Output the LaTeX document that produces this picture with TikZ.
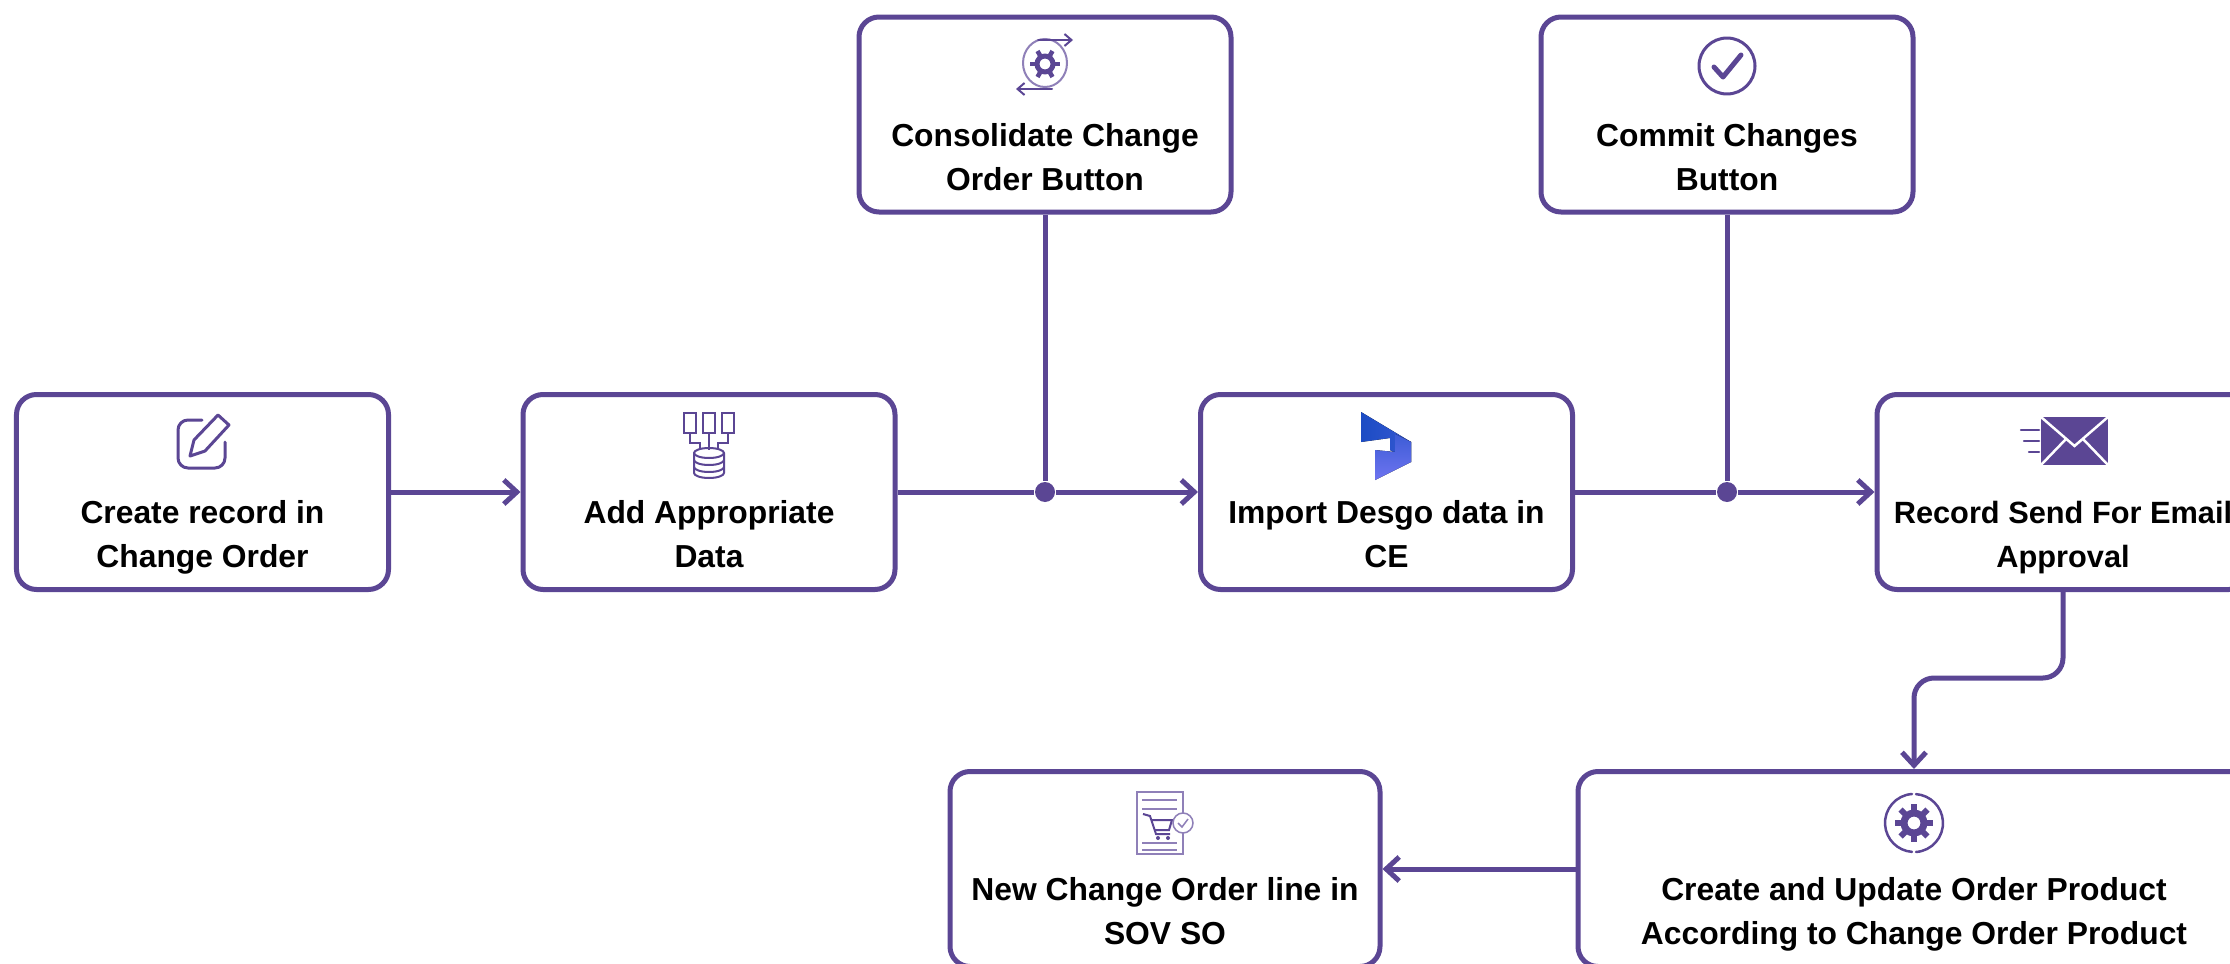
\documentclass[tikz,border=0pt]{standalone}
\usepackage{fontspec}
\setmainfont{Liberation Sans}
\usepackage{xcolor}
\usetikzlibrary{arrows.meta}
\definecolor{FlowPurple}{HTML}{5B4694}
\definecolor{IconLight}{HTML}{8F80B8}
\definecolor{LogoDark}{HTML}{1C4CC4}
\definecolor{LogoLight}{HTML}{6E74F0}

\begin{document}
\begin{tikzpicture}[
stepbox/.style={rectangle, rounded corners=.2cm, draw=FlowPurple, line width=.05cm, fill=white,
minimum width=3.72cm, minimum height=1.95cm, align=center, inner sep=0pt,
font=\fontsize{9.05}{12.5}\selectfont\bfseries},
%
junction/.style={circle, fill=FlowPurple, minimum size=.2cm, inner sep=0pt},
%
flow/.style={draw=FlowPurple, line width=.05cm},
%
flowarrow/.style={flow, -{Straight Barb[length=.13cm,width=.24cm]}},
%
icon/.style={draw=FlowPurple, line width=.03cm, line join=round, line cap=round},
%
thinicon/.style={draw=IconLight, line width=.015cm}]

\useasboundingbox (0,0) rectangle (22.30,-9.64);

%%%%%%%%%%%%%%%%%%%%%%%%%%%%%%
\node [stepbox] (createBox) at (2.025,-4.92) {\strut\\[.46cm]Create record in\\Change Order\strut};
\node [stepbox] (addBox) at (7.09,-4.92) {\strut\\[.46cm]Add Appropriate\\Data\strut};
\node [stepbox] (importBox) at (13.865,-4.92) {\strut\\[.46cm]Import Desgo data in\\CE\strut};
\node [stepbox, font=\fontsize{8.75}{12.5}\selectfont\bfseries] (recordBox) at (20.63,-4.92) {\strut\\[.46cm]Record Send For Email\\Approval\strut};
%%%%%%%%%%%%%%%%%%%%%%%%%%%%%%
\node [stepbox] (consolidateBox) at (10.45,-1.145) {\strut\\[.46cm]Consolidate Change\\Order Button\strut};
\node [stepbox] (commitBox) at (17.27,-1.145) {\strut\\[.46cm]Commit Changes\\Button\strut};
%%%%%%%%%%%%%%%%%%%%%%%%%%%%%%
\node [stepbox, minimum width=6.72cm] (updateBox) at (19.14,-8.69) {\strut\\[.46cm]Create and Update Order Product\\According to Change Order Product\strut};
\node [stepbox, minimum width=4.30cm] (newBox) at (11.65,-8.69) {\strut\\[.46cm]New Change Order line in\\SOV SO\strut};

%%%%%%%%%%%%%%%%%%%%%%%%%%%%%%
\node [junction] (junctionA) at (consolidateBox.south |- addBox.east) {};
\node [junction] (junctionB) at (commitBox.south |- importBox.east) {};

\draw [flowarrow] (createBox) -- (addBox);
\draw [flow] (addBox) -- (junctionA);
\draw [flow] (consolidateBox) -- (junctionA);
\draw [flowarrow] (junctionA) -- (importBox);
\draw [flow] (importBox) -- (junctionB);
\draw [flow] (commitBox) -- (junctionB);
\draw [flowarrow] (junctionB) -- (recordBox);
\draw [flowarrow, rounded corners=.2cm] (recordBox.south) -- ++(0,-.86) -| (updateBox.north);
\draw [flowarrow] (updateBox) -- (newBox);

%%%%%%%%%%%%%%%%%%%%%%%%%%%%%%
% pencil
\draw [icon] (2.02,-4.20) -- (1.88,-4.20) arc (90:180:.1) -- (1.78,-4.58) arc (180:270:.1) -- (2.15,-4.68) arc (270:360:.1) -- (2.25,-4.42);
\draw [icon] (1.90,-4.56) -- (1.94,-4.40) -- (2.18,-4.15) -- (2.29,-4.25) -- (2.05,-4.51) -- cycle;
% documents and database
\foreach \x in {6.90,7.09,7.28}
  \draw [thinicon, draw=FlowPurple, fill=white] (\x-.06,-4.13) rectangle (\x+.06,-4.33);
\draw [thinicon, draw=FlowPurple] (6.90,-4.33) |- (7.00,-4.43) -- (7.00,-4.50);
\draw [thinicon, draw=FlowPurple] (7.09,-4.33) -- (7.09,-4.50);
\draw [thinicon, draw=FlowPurple] (7.28,-4.33) |- (7.18,-4.43) -- (7.18,-4.50);
\draw [icon, line width=.02cm] (7.09,-4.53) ellipse (.15 and .05);
\draw [icon, line width=.02cm] (6.94,-4.53) -- (6.94,-4.73) arc (180:360:.15 and .05) -- (7.24,-4.53);
\draw [icon, line width=.02cm] (6.94,-4.60) arc (180:360:.15 and .05);
\draw [icon, line width=.02cm] (6.94,-4.67) arc (180:360:.15 and .05);
% gear between two arrows
\draw [thinicon, line width=.02cm] (10.45,-.63) ellipse (.22 and .24);
\draw [icon, line width=.02cm, -{Straight Barb[length=.07cm,width=.12cm]}] (10.38,-.40) -- (10.73,-.40);
\draw [icon, line width=.02cm, -{Straight Barb[length=.07cm,width=.12cm]}] (10.52,-.89) -- (10.16,-.89);
\draw [icon, line width=.05cm] (10.45,-.64) circle (.08);
\foreach \a in {0,60,...,300}
  \draw [icon, line width=.045cm, line cap=butt] (10.45,-.64) ++(\a:.09) -- ++(\a:.06);
% check mark
\draw [icon] (17.27,-.66) circle (.28);
\draw [icon, line width=.05cm] (17.14,-.67) -- (17.23,-.77) -- (17.41,-.55);
% product logo
\fill [left color=LogoDark, right color=LogoDark!70!LogoLight] (13.61,-4.12) -- (14.11,-4.42) -- (14.11,-4.62) -- (13.90,-4.50) -- (13.90,-4.38) -- (13.61,-4.42) -- cycle;
\fill [bottom color=LogoLight, top color=LogoDark!60!LogoLight] (13.75,-4.80) -- (14.11,-4.62) -- (14.11,-4.42) -- (13.95,-4.34) -- (13.95,-4.52) -- (13.75,-4.50) -- cycle;
% envelope
\fill [FlowPurple] (20.41,-4.17) rectangle (21.08,-4.65);
\draw [draw=white, line width=.025cm] (20.41,-4.17) -- (20.745,-4.46) -- (21.08,-4.17);
\draw [draw=white, line width=.025cm] (20.41,-4.65) -- (20.66,-4.39);
\draw [draw=white, line width=.025cm] (21.08,-4.65) -- (20.83,-4.39);
\foreach \y/\l in {-4.30/.18,-4.41/.15,-4.52/.10}
  \draw [icon, line width=.025cm] (20.39,\y) -- ++(-\l,0);
% gear in arrows ring
\draw [icon, line width=.025cm] (19.12,-7.94) arc (94:266:.29);
\draw [icon, line width=.025cm] (19.16,-8.52) arc (-86:86:.29);
\draw [icon, line width=.07cm] (19.14,-8.23) circle (.10);
\foreach \a in {0,45,...,315}
  \draw [icon, line width=.06cm, line cap=butt] (19.14,-8.23) ++(\a:.12) -- ++(\a:.07);
% order sheet with cart
\draw [thinicon, fill=white] (11.37,-7.92) rectangle (11.83,-8.54);
\foreach \y in {-8.00,-8.09,-8.43,-8.50}
  \draw [thinicon] (11.42,\y) -- (11.77,\y);
\draw [thinicon, draw=FlowPurple, line width=.02cm] (11.43,-8.14) -- (11.50,-8.16) -- (11.56,-8.34) -- (11.70,-8.34);
\draw [thinicon, draw=FlowPurple, line width=.02cm] (11.52,-8.20) -- (11.72,-8.20) -- (11.69,-8.30) -- (11.55,-8.30);
\fill [FlowPurple] (11.58,-8.38) circle (.02) (11.68,-8.38) circle (.02);
\draw [thinicon, fill=white] (11.83,-8.23) circle (.10);
\draw [thinicon] (11.78,-8.23) -- (11.82,-8.27) -- (11.88,-8.19);

\end{tikzpicture}
\end{document}
